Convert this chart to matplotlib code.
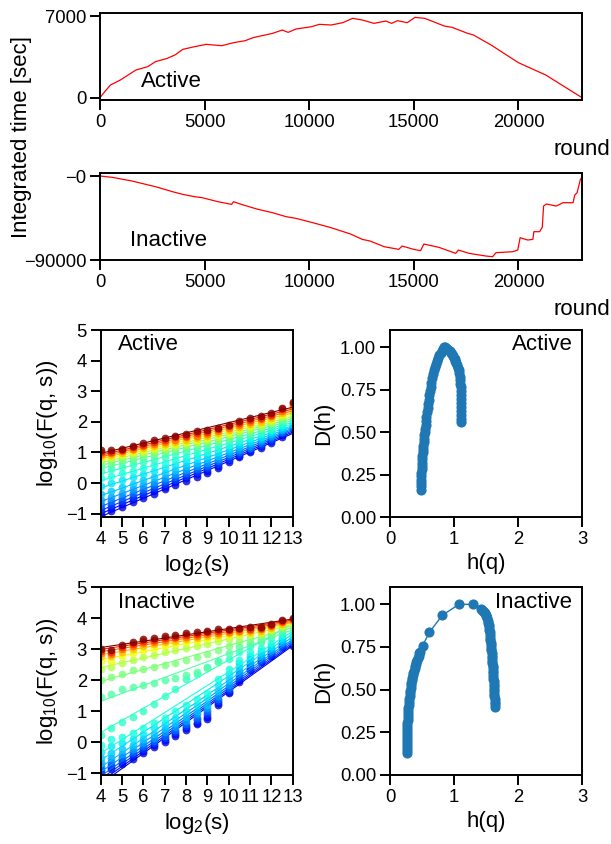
import numpy as np
import matplotlib.pyplot as plt
from matplotlib import cm

plt.rcParams['font.family'] = ['Liberation Sans', 'DejaVu Sans']
plt.rcParams['mathtext.default'] = 'regular'
plt.rcParams['axes.linewidth'] = 1.4

TICK_FS = 13.3
LABEL_FS = 16

# ---- integrated time series ----
act_round = [0, 224, 500, 970, 1343, 1716, 2276, 2650, 3210, 3582, 3955, 4515, 5075,
             5821, 6380, 6940, 7313, 8246, 8713, 8993, 9366, 10112, 10485, 11045,
             11604, 12071, 12537, 13097, 13657, 13937, 14216, 14683, 15056, 15522,
             16455, 16828, 17575, 17854, 18694, 20000, 21306, 23040]
act_time = [0, 514, 1086, 1514, 1943, 2371, 2657, 3086, 3371, 3657, 4143, 4371, 4571,
            4457, 4714, 4886, 5143, 5514, 5800, 5600, 5886, 6086, 6286, 6229,
            6429, 6800, 6657, 6371, 6571, 6371, 6600, 6429, 6886, 6800,
            6143, 6029, 5514, 5371, 4514, 3000, 1943, 0]

inact_round = [0, 597, 1530, 2649, 3582, 3955, 4515, 4888, 5634, 6287, 6381, 6754,
               7500, 8246, 8899, 9366, 10112, 11045, 11978, 12537, 12910, 13582,
               14279, 14438, 15000, 15321, 15481, 16202, 17003, 17131, 17644, 18446,
               18766, 18926, 19727, 19968, 20080, 20449, 20689, 20737, 21010, 21139,
               21202, 21330, 21811, 22130, 22611, 22692, 22803, 22964, 23040]
inact_time = [0, -1429, -5357, -11429, -17500, -19636, -22143, -23214, -27500, -30357,
              -27500, -30357, -35357, -39286, -43571, -45357, -49643, -55357, -62143,
              -67857, -69643, -75714, -78571, -75000, -78571, -80000, -72857, -76429,
              -82857, -79286, -82857, -85714, -86429, -82143, -81071, -79286, -66071,
              -68571, -67857, -59643, -59643, -55000, -32143, -30000, -32143, -28571,
              -28571, -20357, -17857, -3571, -1000]

# ---- MFDFA fluctuation functions, rows from lowest q (blue) to highest q (dark red) ----
log2_s = [4, 4.5, 5, 5.5, 6, 6.5, 7, 7.5, 8, 8.5, 9, 9.5, 10, 10.5, 11, 11.5, 12, 12.5, 13]

F_active = [
    [-1.05, -0.92, -0.77, -0.62, -0.48, -0.35, -0.20, -0.06, 0.08, 0.20, 0.33, 0.50, 0.68, 0.85, 1.00, 1.15, 1.32, 1.52, 1.75],
    [-0.95, -0.82, -0.68, -0.53, -0.40, -0.26, -0.12, 0.02, 0.16, 0.28, 0.40, 0.56, 0.74, 0.90, 1.05, 1.20, 1.37, 1.57, 1.80],
    [-0.85, -0.72, -0.58, -0.44, -0.31, -0.17, -0.03, 0.11, 0.24, 0.36, 0.48, 0.63, 0.80, 0.96, 1.10, 1.25, 1.42, 1.62, 1.84],
    [-0.72, -0.60, -0.46, -0.33, -0.20, -0.07, 0.07, 0.20, 0.33, 0.45, 0.57, 0.71, 0.87, 1.02, 1.16, 1.30, 1.47, 1.67, 1.88],
    [-0.55, -0.44, -0.31, -0.19, -0.07, 0.05, 0.18, 0.30, 0.43, 0.55, 0.67, 0.80, 0.95, 1.09, 1.22, 1.36, 1.53, 1.72, 1.93],
    [-0.35, -0.25, -0.13, -0.02, 0.09, 0.20, 0.32, 0.43, 0.55, 0.66, 0.78, 0.90, 1.04, 1.17, 1.30, 1.43, 1.59, 1.78, 1.98],
    [-0.10, 0.00, 0.10, 0.20, 0.30, 0.40, 0.50, 0.60, 0.71, 0.81, 0.91, 1.02, 1.14, 1.26, 1.38, 1.50, 1.66, 1.84, 2.04],
    [0.15, 0.23, 0.32, 0.41, 0.50, 0.58, 0.67, 0.76, 0.86, 0.95, 1.04, 1.14, 1.25, 1.36, 1.47, 1.59, 1.74, 1.91, 2.10],
    [0.38, 0.45, 0.53, 0.61, 0.69, 0.76, 0.84, 0.92, 1.00, 1.08, 1.16, 1.25, 1.36, 1.46, 1.56, 1.67, 1.81, 1.98, 2.17],
    [0.56, 0.62, 0.69, 0.76, 0.83, 0.90, 0.97, 1.04, 1.12, 1.19, 1.26, 1.35, 1.45, 1.55, 1.64, 1.75, 1.88, 2.05, 2.24],
    [0.68, 0.73, 0.79, 0.86, 0.93, 0.99, 1.06, 1.13, 1.20, 1.27, 1.34, 1.42, 1.52, 1.62, 1.71, 1.82, 1.95, 2.12, 2.31],
    [0.77, 0.81, 0.87, 0.94, 1.01, 1.07, 1.14, 1.21, 1.28, 1.34, 1.41, 1.49, 1.59, 1.69, 1.78, 1.88, 2.01, 2.18, 2.38],
    [0.84, 0.88, 0.94, 1.01, 1.08, 1.14, 1.21, 1.28, 1.35, 1.41, 1.48, 1.56, 1.65, 1.75, 1.85, 1.95, 2.07, 2.24, 2.44],
    [0.90, 0.93, 0.99, 1.07, 1.14, 1.21, 1.28, 1.35, 1.42, 1.48, 1.55, 1.62, 1.72, 1.82, 1.92, 2.01, 2.13, 2.30, 2.50],
    [0.96, 0.98, 1.04, 1.12, 1.20, 1.27, 1.35, 1.42, 1.49, 1.55, 1.61, 1.69, 1.79, 1.89, 1.99, 2.08, 2.18, 2.36, 2.55],
    [1.01, 1.02, 1.08, 1.17, 1.25, 1.33, 1.41, 1.49, 1.55, 1.62, 1.67, 1.75, 1.85, 1.96, 2.05, 2.14, 2.23, 2.41, 2.60],
    [1.07, 1.09, 1.12, 1.22, 1.31, 1.40, 1.47, 1.55, 1.61, 1.69, 1.74, 1.81, 1.91, 2.03, 2.12, 2.19, 2.29, 2.46, 2.65],
]

F_inactive = [
    [-1.08, -0.87, -0.70, -0.52, -0.33, -0.16, 0.02, 0.20, 0.39, 0.58, 0.75, 1.20, 1.58, 1.95, 2.32, 2.58, 2.80, 3.08, 3.10],
    [-1.00, -0.80, -0.63, -0.45, -0.27, -0.10, 0.08, 0.26, 0.45, 0.64, 0.82, 1.26, 1.62, 2.02, 2.38, 2.62, 2.84, 3.12, 3.15],
    [-0.90, -0.72, -0.56, -0.38, -0.20, -0.03, 0.15, 0.32, 0.52, 0.72, 0.90, 1.32, 1.68, 2.10, 2.45, 2.67, 2.88, 3.16, 3.20],
    [-0.80, -0.63, -0.48, -0.30, -0.12, 0.05, 0.22, 0.40, 0.60, 0.80, 1.00, 1.40, 1.75, 2.20, 2.52, 2.72, 2.93, 3.20, 3.25],
    [-0.65, -0.50, -0.36, -0.20, -0.02, 0.15, 0.32, 0.50, 0.70, 0.90, 1.10, 1.50, 1.85, 2.30, 2.60, 2.78, 2.98, 3.24, 3.30],
    [-0.50, -0.35, -0.22, -0.08, 0.10, 0.28, 0.45, 0.62, 0.82, 1.02, 1.22, 1.65, 2.00, 2.42, 2.70, 2.85, 3.05, 3.30, 3.35],
    [-0.30, -0.12, -0.02, 0.12, 0.28, 0.45, 0.62, 0.80, 1.00, 1.20, 1.42, 1.85, 2.20, 2.55, 2.80, 2.95, 3.12, 3.38, 3.42],
    [-0.10, 0.10, 0.18, 0.30, 0.45, 0.62, 0.80, 1.00, 1.20, 1.40, 1.60, 2.05, 2.35, 2.65, 2.90, 3.05, 3.20, 3.45, 3.50],
    [0.25, 0.45, 0.65, 0.82, 1.02, 1.25, 1.50, 1.72, 2.05, 2.20, 2.43, 2.62, 2.70, 2.92, 3.10, 3.22, 3.36, 3.55, 3.58],
    [1.46, 1.57, 1.73, 1.78, 1.84, 1.92, 2.00, 2.07, 2.18, 2.28, 2.40, 2.60, 2.88, 3.08, 3.20, 3.30, 3.46, 3.62, 3.68],
    [2.00, 2.10, 2.22, 2.32, 2.38, 2.44, 2.50, 2.57, 2.65, 2.74, 2.85, 2.98, 3.12, 3.23, 3.32, 3.40, 3.54, 3.68, 3.76],
    [2.38, 2.42, 2.56, 2.66, 2.76, 2.83, 2.91, 2.98, 3.05, 3.11, 3.18, 3.26, 3.33, 3.40, 3.45, 3.49, 3.61, 3.74, 3.84],
    [2.62, 2.63, 2.78, 2.88, 2.97, 3.03, 3.10, 3.16, 3.22, 3.27, 3.33, 3.39, 3.44, 3.49, 3.52, 3.55, 3.66, 3.79, 3.88],
    [2.78, 2.77, 2.92, 3.02, 3.10, 3.16, 3.22, 3.27, 3.32, 3.37, 3.42, 3.47, 3.51, 3.55, 3.57, 3.60, 3.70, 3.83, 3.92],
    [2.88, 2.86, 3.01, 3.11, 3.19, 3.24, 3.30, 3.35, 3.40, 3.44, 3.49, 3.53, 3.57, 3.60, 3.62, 3.64, 3.74, 3.87, 3.96],
    [2.95, 2.92, 3.08, 3.18, 3.26, 3.31, 3.37, 3.41, 3.46, 3.50, 3.55, 3.59, 3.62, 3.65, 3.67, 3.68, 3.78, 3.91, 3.99],
    [3.00, 2.97, 3.14, 3.24, 3.32, 3.37, 3.43, 3.46, 3.51, 3.55, 3.60, 3.64, 3.67, 3.70, 3.71, 3.71, 3.82, 3.95, 4.02],
]

# position of each q row on the jet colour scale
q_color_pos = [0.08, 0.13, 0.18, 0.23, 0.28, 0.32, 0.35, 0.38, 0.41, 0.45, 0.50,
               0.57, 0.64, 0.71, 0.79, 0.87, 1.0]

# ---- multifractal spectra ----
h_active = [0.480, 0.482, 0.484, 0.486, 0.488, 0.490, 0.493, 0.496, 0.499, 0.503, 0.507,
            0.511, 0.515, 0.520, 0.526, 0.532, 0.538, 0.544, 0.550, 0.556, 0.563, 0.570,
            0.578, 0.586, 0.594, 0.602, 0.612, 0.622, 0.633, 0.645, 0.658, 0.672, 0.687,
            0.703, 0.720, 0.737, 0.755, 0.772, 0.790, 0.808, 0.826, 0.845,
            0.862, 0.879, 0.896, 0.913, 0.930, 0.947, 0.963, 0.978, 0.993, 1.008, 1.023,
            1.037, 1.050, 1.062, 1.073, 1.082, 1.090, 1.096, 1.100, 1.104, 1.107, 1.109,
            1.111, 1.112, 1.113, 1.114, 1.115, 1.116, 1.117]
D_active = [0.160, 0.18, 0.20, 0.22, 0.24, 0.26, 0.28, 0.30, 0.32, 0.34, 0.36,
            0.38, 0.40, 0.42, 0.44, 0.46, 0.48, 0.50, 0.52, 0.54, 0.565, 0.59,
            0.615, 0.64, 0.665, 0.69, 0.715, 0.74, 0.765, 0.79, 0.815, 0.84, 0.862,
            0.882, 0.90, 0.918, 0.935, 0.951, 0.966, 0.979, 0.99, 0.998,
            0.999, 0.996, 0.991, 0.984, 0.975, 0.966, 0.957, 0.948, 0.938, 0.927, 0.916,
            0.904, 0.892, 0.878, 0.862, 0.845, 0.826, 0.806, 0.785, 0.762, 0.74, 0.717,
            0.694, 0.671, 0.648, 0.625, 0.602, 0.579, 0.556]

h_inactive = [0.26, 0.261, 0.262, 0.263, 0.264, 0.265, 0.266, 0.268, 0.269, 0.271, 0.273,
              0.275, 0.278, 0.281, 0.284, 0.287, 0.291, 0.295, 0.30, 0.305, 0.31, 0.316,
              0.322, 0.328, 0.335, 0.342, 0.35, 0.358, 0.366, 0.375, 0.384, 0.394, 0.404,
              0.414, 0.425, 0.436, 0.448, 0.46, 0.472, 0.511, 0.615, 0.818, 1.078, 1.30,
              1.417, 1.435, 1.45, 1.465, 1.48, 1.493, 1.505, 1.516, 1.525, 1.533, 1.54,
              1.546, 1.552, 1.557, 1.562, 1.566, 1.57, 1.574, 1.578, 1.582, 1.585, 1.588,
              1.591, 1.594, 1.597, 1.600, 1.603, 1.606, 1.608, 1.611, 1.613, 1.616, 1.618,
              1.621, 1.623, 1.626, 1.628, 1.630, 1.632, 1.634, 1.636, 1.638, 1.64]
D_inactive = [0.13, 0.148, 0.165, 0.183, 0.20, 0.218, 0.235, 0.253, 0.27, 0.288, 0.305,
              0.323, 0.34, 0.358, 0.375, 0.393, 0.41, 0.428, 0.445, 0.462, 0.478, 0.494,
              0.51, 0.525, 0.54, 0.555, 0.57, 0.584, 0.597, 0.611, 0.624, 0.637, 0.65,
              0.663, 0.675, 0.688, 0.70, 0.712, 0.723, 0.758, 0.836, 0.936, 1.0, 1.0,
              0.973, 0.968, 0.962, 0.955, 0.948, 0.94, 0.93, 0.918, 0.905, 0.893, 0.88,
              0.865, 0.85, 0.835, 0.82, 0.805, 0.79, 0.775, 0.76, 0.745, 0.73, 0.715,
              0.70, 0.685, 0.67, 0.655, 0.64, 0.625, 0.61, 0.595, 0.58, 0.565, 0.55,
              0.535, 0.52, 0.505, 0.49, 0.475, 0.46, 0.445, 0.43, 0.415, 0.40]

fig = plt.figure(figsize=(6.11, 8.44), dpi=100)

ax1 = fig.add_axes([0.1637, 0.8815, 0.7889, 0.1027])
ax2 = fig.add_axes([0.1637, 0.6919, 0.7889, 0.1027])
ax3 = fig.add_axes([0.1648, 0.3874, 0.3142, 0.2216])
ax4 = fig.add_axes([0.6383, 0.3874, 0.3142, 0.2216])
ax5 = fig.add_axes([0.1648, 0.0818, 0.3142, 0.2224])
ax6 = fig.add_axes([0.6383, 0.0818, 0.3142, 0.2224])

for ax in (ax1, ax2, ax3, ax4, ax5, ax6):
    ax.tick_params(direction='out', length=7, width=1.4, labelsize=TICK_FS, pad=3)

# top: integrated time
ax1.plot(act_round, act_time, color='red', linewidth=0.9)
ax1.set_xlim(0, 23040)
ax1.set_ylim(-200, 7230)
ax1.set_yticks([0, 7000])
ax1.set_xticks([0, 5000, 10000, 15000, 20000])
ax1.text(0.084, 0.21, 'Active', transform=ax1.transAxes, fontsize=LABEL_FS, va='center')
ax1.set_xlabel('round', fontsize=LABEL_FS)
ax1.xaxis.set_label_coords(1.0, -0.45)

ax2.plot(inact_round, inact_time, color='red', linewidth=0.9)
ax2.set_xlim(0, 23040)
ax2.set_ylim(-90000, 2860)
ax2.set_yticks([-90000, 0])
ax2.set_yticklabels(['\u221290000', '\u22120'])
ax2.set_xticks([0, 5000, 10000, 15000, 20000])
ax2.text(0.063, 0.23, 'Inactive', transform=ax2.transAxes, fontsize=LABEL_FS, va='center')
ax2.set_xlabel('round', fontsize=LABEL_FS)
ax2.xaxis.set_label_coords(1.0, -0.45)

fig.text(0.035, 0.838, 'Integrated time [sec]', rotation=90, fontsize=LABEL_FS,
         ha='center', va='center')


def draw_fluct(ax, rows, name, ybottom):
    colors = cm.jet(q_color_pos)
    xs = np.array(log2_s)
    for row, c in zip(rows, colors):
        k, b = np.polyfit(xs, row, 1)
        ax.plot([4, 13], [k * 4 + b, k * 13 + b], color=c, linewidth=0.8)
        ax.plot(xs, row, 'o', color=c, markersize=5.6, markeredgewidth=0, alpha=0.8)
    ax.set_xlim(4, 13)
    ax.set_ylim(ybottom, 5)
    ax.set_xticks(range(4, 14))
    ax.set_yticks(range(-1, 6))
    ax.set_xlabel('log$_2$(s)', fontsize=LABEL_FS)
    ax.set_ylabel('log$_{10}$(F(q, s))', fontsize=LABEL_FS)
    ax.text(0.09, 0.92, name, transform=ax.transAxes, fontsize=LABEL_FS, va='center')


def draw_spectrum(ax, h, d, name):
    ax.plot(h, d, '-o', color='#1f77b4', markersize=6.3, linewidth=1)
    ax.set_xlim(0, 3)
    ax.set_ylim(0, 1.1)
    ax.set_xticks([0, 1, 2, 3])
    ax.set_yticks([0, 0.25, 0.5, 0.75, 1.0])
    ax.set_yticklabels(['0.00', '0.25', '0.50', '0.75', '1.00'])
    ax.set_xlabel('h(q)', fontsize=LABEL_FS)
    ax.set_ylabel('D(h)', fontsize=LABEL_FS)
    ax.text(0.95, 0.92, name, transform=ax.transAxes, fontsize=LABEL_FS,
            va='center', ha='right')


draw_fluct(ax3, F_active, 'Active', -1.11)
draw_fluct(ax5, F_inactive, 'Inactive', -1.05)
draw_spectrum(ax4, h_active, D_active, 'Active')
draw_spectrum(ax6, h_inactive, D_inactive, 'Inactive')

fig.savefig('out.png', dpi=100)
